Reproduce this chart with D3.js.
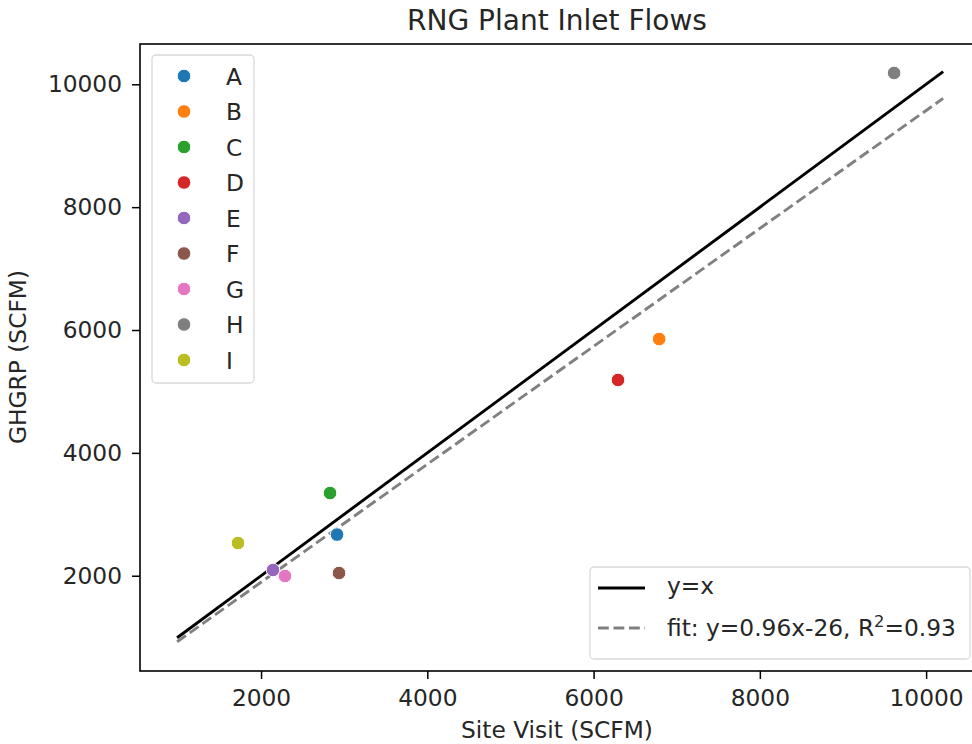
<!DOCTYPE html>
<html>
<head>
<meta charset="utf-8">
<script src="https://cdn.jsdelivr.net/npm/d3@7"></script>
<style>
  body { margin: 0; background: #fff; }
  text { font-family: 'DejaVu Sans', sans-serif; fill: #262626; }
</style>
</head>
<body>
<svg id="chart" width="972" height="744"></svg>
<script>
// plants and their flows
const plants = ['A', 'B', 'C', 'D', 'E', 'F', 'G', 'H', 'I']
const siteVisit = [2914, 6789, 2830, 6294, 2144, 2938, 2288, 9615, 1723]
const ghgrp = [2670, 5853, 3346, 5187, 2093, 2044, 1995, 10184, 2532]
const colors = ['#1f77b4', '#ff7f0e', '#2ca02c', '#d62728', '#9467bd', '#8c564b', '#e377c2', '#7f7f7f', '#bcbd22']
const xTicks = [2000, 4000, 6000, 8000, 10000]
const yTicks = [2000, 4000, 6000, 8000, 10000]
// reference lines
const lineX = [990, 10205]
const fitSlope = 0.96
const fitIntercept = -26
const lineLabels = ['y=x', 'fit: y=0.96x-26, R']

const svg = d3.select('#chart')
const mLeft = 140
const mRight = 974
const mTop = 44
const mBottom = 671
const fs = 23.3

const x = d3.scaleLinear().domain([544, 10576]).range([mLeft, mRight])
const y = d3.scaleLinear().domain([449, 10656]).range([mBottom, mTop])

// axes frame
svg.append('rect')
  .attr('x', mLeft).attr('y', mTop)
  .attr('width', mRight - mLeft).attr('height', mBottom - mTop)
  .attr('fill', 'none').attr('stroke', '#000').attr('stroke-width', 1.6)

const xAxis = svg.append('g')
  .attr('transform', `translate(0,${mBottom})`)
  .call(d3.axisBottom(x).tickValues(xTicks).tickFormat(d3.format('d')).tickSize(8).tickPadding(10))
const yAxis = svg.append('g')
  .attr('transform', `translate(${mLeft},0)`)
  .call(d3.axisLeft(y).tickValues(yTicks).tickFormat(d3.format('d')).tickSize(8).tickPadding(10))
for (const ax of [xAxis, yAxis]) {
  ax.select('.domain').remove()
  ax.selectAll('.tick line').attr('stroke', '#000').attr('stroke-width', 1.5)
  ax.selectAll('.tick text').attr('font-size', fs).attr('font-family', 'DejaVu Sans').attr('fill', '#262626')
}

// lines
const lineGen = d3.line().x(d => x(d[0])).y(d => y(d[1]))
svg.append('path')
  .attr('d', lineGen(lineX.map(v => [v, v])))
  .attr('stroke', '#000').attr('stroke-width', 2.9).attr('fill', 'none')
svg.append('path')
  .attr('d', lineGen(lineX.map(v => [v, fitSlope * v + fitIntercept])))
  .attr('stroke', '#808080').attr('stroke-width', 2.9).attr('fill', 'none')
  .attr('stroke-dasharray', '10.8,4.7')

// points
svg.append('g').selectAll('circle')
  .data(plants)
  .join('circle')
  .attr('cx', (d, i) => x(siteVisit[i]))
  .attr('cy', (d, i) => y(ghgrp[i]))
  .attr('r', 6.8)
  .attr('fill', (d, i) => colors[i])
  .attr('stroke', '#fff').attr('stroke-width', 1)

// title and labels
svg.append('text').attr('x', (mLeft + mRight) / 2).attr('y', 30)
  .attr('text-anchor', 'middle').attr('font-size', 28).text('RNG Plant Inlet Flows')
svg.append('text').attr('x', (mLeft + mRight) / 2).attr('y', 738)
  .attr('text-anchor', 'middle').attr('font-size', fs).text('Site Visit (SCFM)')
svg.append('text').attr('transform', 'translate(26,357) rotate(-90)')
  .attr('text-anchor', 'middle').attr('font-size', fs).text('GHGRP (SCFM)')

// plant legend
const leg1 = svg.append('g')
leg1.append('rect').attr('x', 152).attr('y', 55).attr('width', 102).attr('height', 328)
  .attr('rx', 4).attr('fill', '#fff').attr('fill-opacity', 0.8).attr('stroke', '#d9d9d9').attr('stroke-width', 1.3)
const rows = leg1.selectAll('g.row').data(plants).join('g').attr('class', 'row')
  .attr('transform', (d, i) => `translate(0,${76 + i * 35.5})`)
rows.append('circle').attr('cx', 184).attr('cy', 0).attr('r', 6.8)
  .attr('fill', (d, i) => colors[i]).attr('stroke', '#fff').attr('stroke-width', 1)
rows.append('text').attr('x', 226).attr('y', 8.5).attr('font-size', fs).text(d => d)

// line legend
const leg2 = svg.append('g')
leg2.append('rect').attr('x', 590).attr('y', 567).attr('width', 380).attr('height', 92)
  .attr('rx', 4).attr('fill', '#fff').attr('fill-opacity', 0.8).attr('stroke', '#d9d9d9').attr('stroke-width', 1.3)
leg2.append('line').attr('x1', 598).attr('x2', 645).attr('y1', 588).attr('y2', 588)
  .attr('stroke', '#000').attr('stroke-width', 2.9)
leg2.append('line').attr('x1', 598).attr('x2', 645).attr('y1', 628).attr('y2', 628)
  .attr('stroke', '#808080').attr('stroke-width', 2.9).attr('stroke-dasharray', '10.8,4.7')
leg2.append('text').attr('x', 667).attr('y', 594).attr('font-size', fs).text(lineLabels[0])
const fitText = leg2.append('text').attr('x', 667).attr('y', 636).attr('font-size', fs)
fitText.append('tspan').text(lineLabels[1])
fitText.append('tspan').attr('font-size', 16.3).attr('dy', -9).text('2')
fitText.append('tspan').attr('dy', 9).text('=0.93')
</script>
</body>
</html>
